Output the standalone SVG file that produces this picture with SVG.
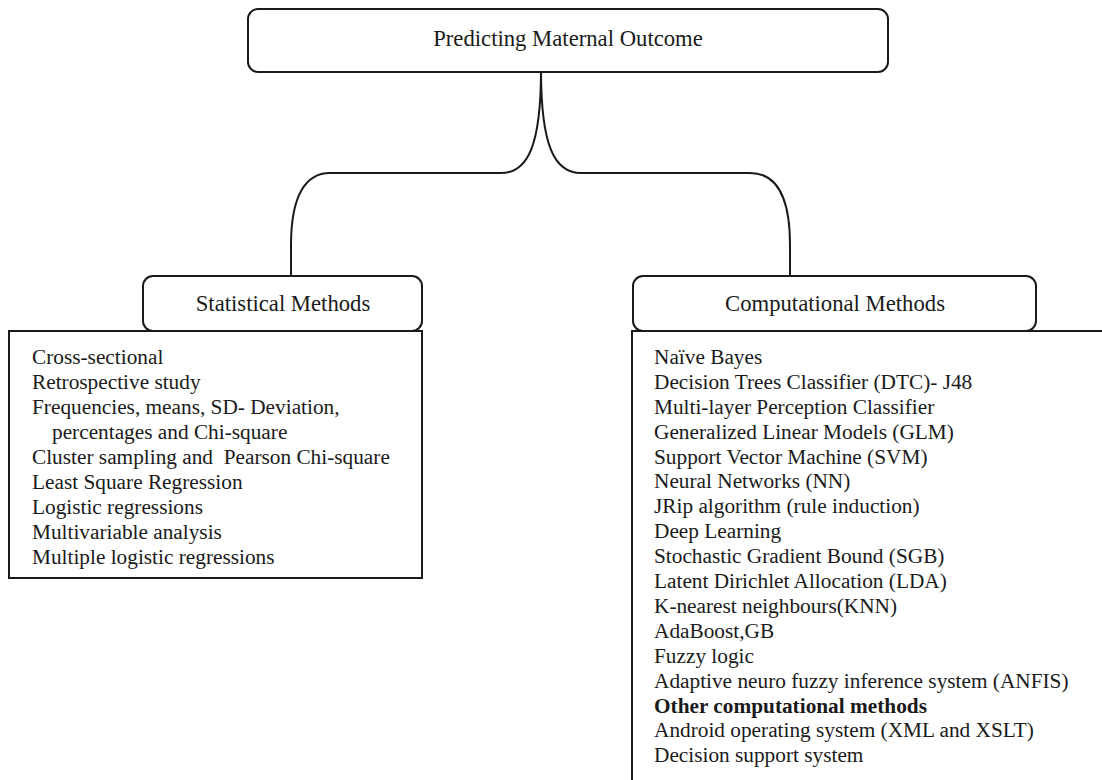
<svg xmlns="http://www.w3.org/2000/svg" width="1102" height="780" viewBox="0 0 1102 780">
<style>
.box{fill:#fff;stroke:#1a1a1a;stroke-width:2}
.con{fill:none;stroke:#1a1a1a;stroke-width:2}
text{font-family:"Liberation Serif","Times New Roman",serif;fill:#1a1a1a}
.h{font-size:22.7px;text-anchor:middle}
.l{font-size:21.3px}
.b{font-weight:bold}
</style>
<rect width="1102" height="780" fill="#fff"/>
<g id="connectors">
<path class="con" d="M541,70 C541,145 528,173 501,173 L330,173 C306,173 291,195 291,245 L291,276"/>
<path class="con" d="M541,70 C541,145 554,173 581,173 L750,173 C775,173 790,195 790,245 L790,276"/>
</g>
<g id="root">
<rect class="box" x="248" y="9" width="640" height="63" rx="10"/>
<text class="h" x="568" y="46">Predicting Maternal Outcome</text>
</g>
<g id="statistical">
<rect class="box" x="143" y="276" width="279" height="55" rx="10"/>
<text class="h" x="283" y="311">Statistical Methods</text>
</g>
<g id="statistical-list">
<rect class="box" x="9" y="331" width="413" height="247"/>
<g class="l">
<text x="32" y="364">Cross-sectional</text>
<text x="32" y="389">Retrospective study</text>
<text x="32" y="414">Frequencies, means, SD- Deviation,</text>
<text x="52" y="439">percentages and Chi-square</text>
<text x="32" y="464" xml:space="preserve">Cluster sampling and  Pearson Chi-square</text>
<text x="32" y="489">Least Square Regression</text>
<text x="32" y="514">Logistic regressions</text>
<text x="32" y="539">Multivariable analysis</text>
<text x="32" y="564">Multiple logistic regressions</text>
</g>
</g>
<g id="computational">
<rect class="box" x="633" y="276" width="403" height="55" rx="10"/>
<text class="h" x="835" y="311">Computational Methods</text>
</g>
<g id="computational-list">
<rect class="box" x="632" y="331" width="490" height="470"/>
<g class="l">
<text x="654" y="364">Naïve Bayes</text>
<text x="654" y="389">Decision Trees Classifier (DTC)- J48</text>
<text x="654" y="414">Multi-layer Perception Classifier</text>
<text x="654" y="439">Generalized Linear Models (GLM)</text>
<text x="654" y="464">Support Vector Machine (SVM)</text>
<text x="654" y="488">Neural Networks (NN)</text>
<text x="654" y="513">JRip algorithm (rule induction)</text>
<text x="654" y="538">Deep Learning</text>
<text x="654" y="563">Stochastic Gradient Bound (SGB)</text>
<text x="654" y="588">Latent Dirichlet Allocation (LDA)</text>
<text x="654" y="613">K-nearest neighbours(KNN)</text>
<text x="654" y="638">AdaBoost,GB</text>
<text x="654" y="663">Fuzzy logic</text>
<text x="654" y="688">Adaptive neuro fuzzy inference system (ANFIS)</text>
<text class="b" x="654" y="713">Other computational methods</text>
<text x="654" y="737">Android operating system (XML and XSLT)</text>
<text x="654" y="762">Decision support system</text>
</g>
</g>
</svg>
